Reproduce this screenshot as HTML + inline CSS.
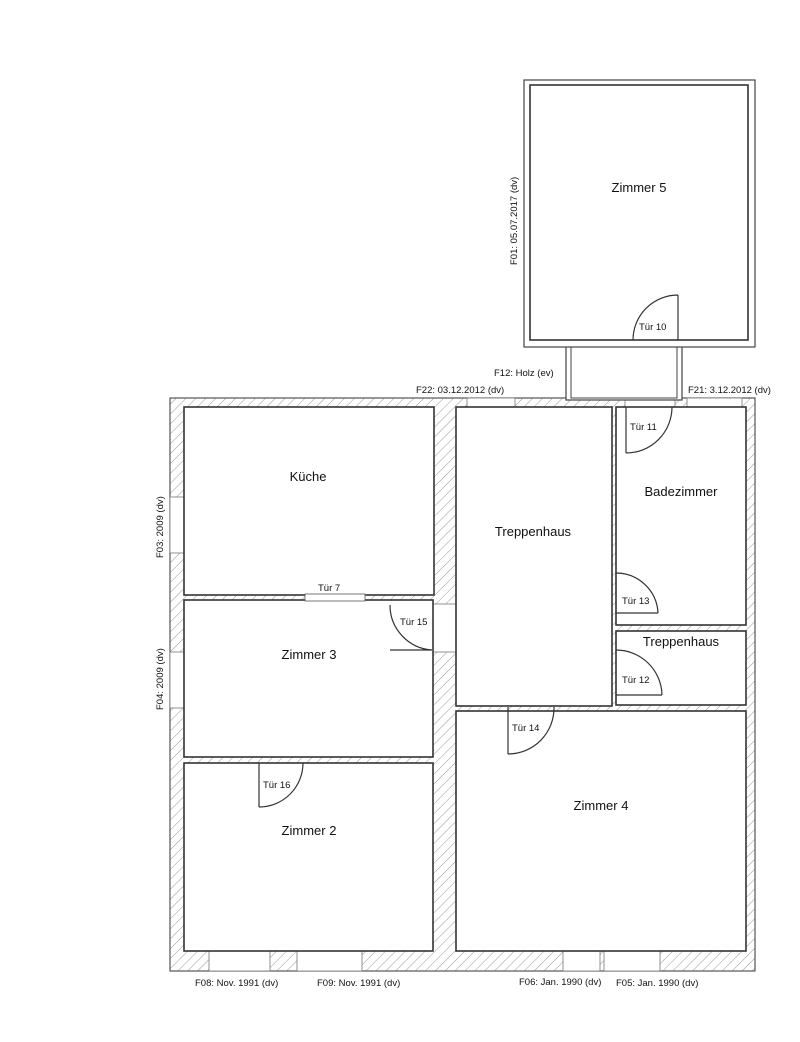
<!DOCTYPE html>
<html><head><meta charset="utf-8"><style>
html,body{margin:0;padding:0;background:#fff;}
svg{display:block;}
text{font-family:"Liberation Sans",Arial,sans-serif;fill:#111;}
</style></head><body>
<svg width="800" height="1042" viewBox="0 0 800 1042" xmlns="http://www.w3.org/2000/svg">
<defs>
<pattern id="h" patternUnits="userSpaceOnUse" width="7" height="7" patternTransform="rotate(45)">
<rect width="7" height="7" fill="#fff"/>
<line x1="0" y1="0" x2="0" y2="7" stroke="#999" stroke-width="1"/>
</pattern>
</defs>
<!-- main building walls -->
<rect x="170" y="398" width="585" height="573" fill="url(#h)" stroke="#555" stroke-width="1.2"/>
<!-- top wall gaps -->
<rect x="467" y="398" width="48" height="9" fill="#fff" stroke="#777" stroke-width="0.8"/>
<rect x="625" y="398" width="50" height="9" fill="#fff" stroke="#777" stroke-width="0.8"/>
<rect x="687" y="398" width="55" height="9" fill="#fff" stroke="#777" stroke-width="0.8"/>
<!-- left windows -->
<rect x="170" y="497" width="14" height="56" fill="#fff" stroke="#777" stroke-width="0.8"/>
<rect x="170" y="652" width="14" height="56" fill="#fff" stroke="#777" stroke-width="0.8"/>
<!-- bottom windows -->
<rect x="209" y="951" width="61" height="20" fill="#fff" stroke="#777" stroke-width="0.8"/>
<rect x="297" y="951" width="65" height="20" fill="#fff" stroke="#777" stroke-width="0.8"/>
<rect x="563" y="951" width="37" height="20" fill="#fff" stroke="#777" stroke-width="0.8"/>
<rect x="604" y="951" width="56" height="20" fill="#fff" stroke="#777" stroke-width="0.8"/>
<!-- interior door gap in thick wall -->
<rect x="433" y="604" width="23" height="48" fill="#fff" stroke="#777" stroke-width="0.8"/>
<!-- rooms -->
<g fill="#fff" stroke="#333" stroke-width="1.6">
<rect x="184" y="407" width="250" height="188"/>
<rect x="184" y="600" width="249" height="157"/>
<rect x="184" y="763" width="249" height="188"/>
<rect x="456" y="407" width="156" height="299"/>
<rect x="616" y="407" width="130" height="218"/>
<rect x="616" y="631" width="130" height="74"/>
<rect x="456" y="711" width="290" height="240"/>
</g>
<!-- Tür 7 opening -->
<rect x="305" y="594" width="60" height="7" fill="#fff" stroke="#555" stroke-width="0.8"/>
<!-- Zimmer 5 + connector -->
<rect x="566" y="340" width="116" height="60" fill="#fff" stroke="#444" stroke-width="1.2"/>
<rect x="571" y="347" width="106" height="51" fill="#fff" stroke="#444" stroke-width="1"/>
<rect x="524" y="80" width="231" height="267" fill="#fff" stroke="#444" stroke-width="1.2"/>
<rect x="530" y="85" width="218" height="255" fill="#fff" stroke="#333" stroke-width="1.6"/>
<!-- doors -->
<g fill="none" stroke="#333" stroke-width="1.2">
<path d="M678 340 V295 M633 340 A45 45 0 0 1 678 295"/>
<path d="M626 407 V453 M626 453 A46 46 0 0 0 672 407"/>
<path d="M616 613 H658 M616 573 A42 42 0 0 1 658 613"/>
<path d="M616 695 H662 M616 650 A46 46 0 0 1 662 695"/>
<path d="M432 650 H390 M390 605 A45 45 0 0 0 432 650"/>
<path d="M508 707 V754 M508 754 A46 46 0 0 0 554 707"/>
<path d="M259 763 V807 M259 807 A44 44 0 0 0 303 763"/>
</g>
<!-- room labels -->
<g font-size="13">
<text x="639" y="192" text-anchor="middle">Zimmer 5</text>
<text x="308" y="481" text-anchor="middle">Küche</text>
<text x="533" y="536" text-anchor="middle">Treppenhaus</text>
<text x="681" y="496" text-anchor="middle">Badezimmer</text>
<text x="681" y="646" text-anchor="middle">Treppenhaus</text>
<text x="309" y="659" text-anchor="middle">Zimmer 3</text>
<text x="309" y="835" text-anchor="middle">Zimmer 2</text>
<text x="601" y="810" text-anchor="middle">Zimmer 4</text>
</g>
<g font-size="9.5">
<text x="639" y="330">Tür 10</text>
<text x="630" y="430">Tür 11</text>
<text x="622" y="604">Tür 13</text>
<text x="622" y="683">Tür 12</text>
<text x="400" y="625">Tür 15</text>
<text x="512" y="731">Tür 14</text>
<text x="263" y="788">Tür 16</text>
<text x="318" y="591">Tür 7</text>
<text x="494" y="376">F12: Holz (ev)</text>
<text x="416" y="393">F22: 03.12.2012 (dv)</text>
<text x="688" y="393">F21: 3.12.2012 (dv)</text>
<text x="195" y="986">F08: Nov. 1991 (dv)</text>
<text x="317" y="986">F09: Nov. 1991 (dv)</text>
<text x="519" y="985">F06: Jan. 1990 (dv)</text>
<text x="616" y="986">F05: Jan. 1990 (dv)</text>
<text transform="translate(517,265) rotate(-90)">F01: 05.07.2017 (dv)</text>
<text transform="translate(163,558) rotate(-90)">F03: 2009 (dv)</text>
<text transform="translate(163,710) rotate(-90)">F04: 2009 (dv)</text>
</g>
</svg>
</body></html>
